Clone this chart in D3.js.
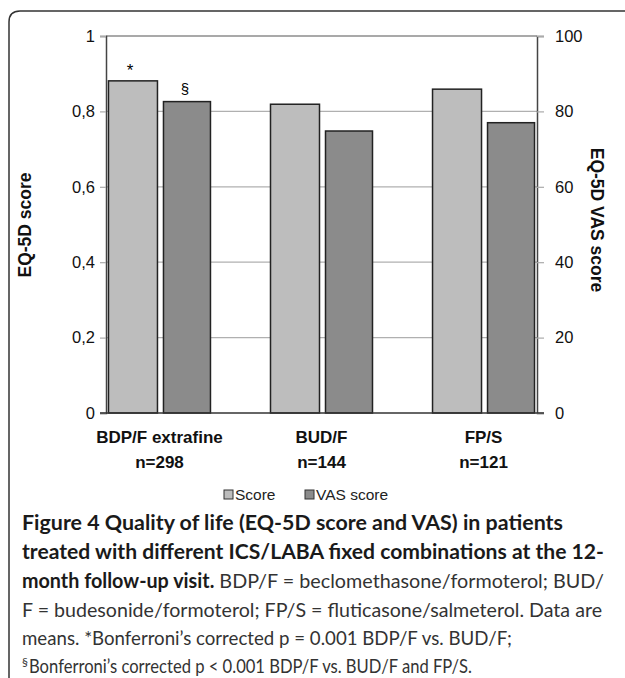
<!DOCTYPE html>
<html><head><meta charset="utf-8">
<script src="https://cdn.jsdelivr.net/npm/d3@7"></script>
<style>body{margin:0;background:#fff}svg{display:block}</style>
</head><body>
<script>
const categories = ["BDP/F extrafine", "BUD/F", "FP/S"];
const nLabels = ["n=298", "n=144", "n=121"];
const scoreValues = [0.881, 0.819, 0.859];
const vasValues = [82.6, 74.8, 77.0];
const scoreMarks = ["*", "", ""];
const vasMarks = ["§", "", ""];
const leftTicks = [0, 0.2, 0.4, 0.6, 0.8, 1];
const rightTicks = [0, 20, 40, 60, 80, 100];
const seriesNames = ["Score", "VAS score"];

const W = 625, H = 678;
const svg = d3.select("body").append("svg").attr("width", W).attr("height", H);

// frame
svg.append("path")
  .attr("d", "M9,690 L9,22 Q9,11 20,11 L626,11")
  .attr("fill", "none").attr("stroke", "#333").attr("stroke-width", 1.5);

const L = 106, R = 537, T = 36, B = 413;
const x = d3.scalePoint().domain(categories).range([L, R]).padding(0.33);
const yL = d3.scaleLinear().domain([0, 1]).range([B, T]);
const yR = d3.scaleLinear().domain([0, 100]).range([B, T]);

const font = "'Liberation Sans', Arial, sans-serif";

// gridlines
svg.append("g").selectAll("line").data(leftTicks.slice(1, -1)).join("line")
  .attr("x1", L).attr("x2", R).attr("y1", d => yL(d)).attr("y2", d => yL(d))
  .attr("stroke", "#b0b0b0").attr("stroke-width", 1.2);
// top border
svg.append("line").attr("x1", L).attr("x2", R).attr("y1", T).attr("y2", T)
  .attr("stroke", "#555").attr("stroke-width", 1.2);

const bw1 = 49, bw2 = 47, gap = 6;
const half = (bw1 + gap + bw2) / 2;

svg.append("g").selectAll("rect").data(categories).join("rect")
  .attr("x", d => x(d) - half).attr("width", bw1)
  .attr("y", (d, i) => yL(scoreValues[i])).attr("height", (d, i) => B - yL(scoreValues[i]))
  .attr("fill", "#bdbdbd").attr("stroke", "#222").attr("stroke-width", 1.5);
svg.append("g").selectAll("rect").data(categories).join("rect")
  .attr("x", d => x(d) - half + bw1 + gap).attr("width", bw2)
  .attr("y", (d, i) => yR(vasValues[i])).attr("height", (d, i) => B - yR(vasValues[i]))
  .attr("fill", "#8b8b8b").attr("stroke", "#222").attr("stroke-width", 1.5);

// annotations
svg.append("g").selectAll("text").data(categories).join("text")
  .attr("x", d => x(d) - half + bw1 / 2 - 3).attr("y", (d, i) => yL(scoreValues[i]) - 5)
  .attr("text-anchor", "middle").attr("font-family", font).attr("font-size", 17)
  .text((d, i) => scoreMarks[i]);
svg.append("g").selectAll("text").data(categories).join("text")
  .attr("x", d => x(d) - half + bw1 + gap + bw2 / 2 - 2).attr("y", (d, i) => yR(vasValues[i]) - 8)
  .attr("text-anchor", "middle").attr("font-family", font).attr("font-size", 15)
  .text((d, i) => vasMarks[i]);

// axes
const fmt = d => (d === 0 || d === 1) ? String(d) : d3.format(".1f")(d).replace(".", ",");
const gl = svg.append("g").attr("transform", `translate(${L},0)`)
  .call(d3.axisLeft(yL).tickValues(leftTicks).tickFormat(fmt).tickSize(6).tickPadding(5));
const gr = svg.append("g").attr("transform", `translate(${R},0)`)
  .call(d3.axisRight(yR).tickValues(rightTicks).tickSize(7).tickPadding(11));
[gl, gr].forEach(g => {
  g.select(".domain").attr("stroke", "#444").attr("stroke-width", 1.5);
  g.selectAll(".tick line").attr("stroke", "#aaa").attr("stroke-width", 1.2);
  g.selectAll(".tick text").attr("font-family", font).attr("font-size", 16.5).attr("fill", "#111");
});
// zero line
svg.append("line").attr("x1", L - 6).attr("x2", R + 7).attr("y1", B).attr("y2", B)
  .attr("stroke", "#333").attr("stroke-width", 1.5);

// category labels
const xl = svg.append("g").selectAll("text").data(categories).join("text")
  .attr("x", d => x(d)).attr("text-anchor", "middle")
  .attr("font-family", font).attr("font-weight", "bold").attr("font-size", 17).attr("fill", "#111");
xl.append("tspan").attr("x", d => x(d)).attr("y", 443).text(d => d);
xl.append("tspan").attr("x", d => x(d)).attr("y", 468).text((d, i) => nLabels[i]);

// axis titles
svg.append("text").attr("transform", "translate(31,225) rotate(-90)")
  .attr("text-anchor", "middle").attr("font-family", font).attr("font-weight", "bold")
  .attr("font-size", 17.5).attr("fill", "#111").text("EQ-5D score");
svg.append("text").attr("transform", "translate(591,220) rotate(90)")
  .attr("text-anchor", "middle").attr("font-family", font).attr("font-weight", "bold")
  .attr("font-size", 17.5).attr("fill", "#111").text("EQ-5D VAS score");

// legend
const legX = [224, 305], legFill = ["#bdbdbd", "#8b8b8b"];
const lg = svg.append("g").selectAll("g").data(seriesNames).join("g")
  .attr("transform", (d, i) => `translate(${legX[i]},490)`);
lg.append("rect").attr("width", 9).attr("height", 9).attr("fill", (d, i) => legFill[i])
  .attr("stroke", "#333").attr("stroke-width", 1);
lg.append("text").attr("x", 11).attr("y", 10).attr("font-family", font).attr("font-size", 15.5)
  .attr("fill", "#222").text(d => d);

// caption
const cf = "Lato, 'Open Sans', sans-serif";
const lines = [
  {parts: [{t: "Figure 4 Quality of life (EQ-5D score and VAS) in patients", b: true}], w: 541},
  {parts: [{t: "treated with different ICS/LABA fixed combinations at the 12-", b: true}], w: 582},
  {parts: [{t: "month follow-up visit.", b: true}, {t: " BDP/F = beclomethasone/formoterol; BUD/", b: false}], w: 582},
  {parts: [{t: "F = budesonide/formoterol; FP/S = fluticasone/salmeterol. Data are", b: false}], w: 580},
  {parts: [{t: "means. *Bonferroni’s corrected p = 0.001 BDP/F vs. BUD/F;", b: false}], w: 490},
  {parts: [{t: "Bonferroni’s corrected p < 0.001 BDP/F vs. BUD/F and FP/S.", b: false}], w: 443, sup: "§"}
];
const ys = [530, 559, 588, 617, 645, 673];
lines.forEach((ln, i) => {
  let x0 = 22;
  if (ln.sup) {
    svg.append("text").attr("x", 22).attr("y", ys[i] - 7).attr("font-family", cf)
      .attr("font-size", 12).attr("fill", "#333").text(ln.sup);
    x0 = 29;
  }
  const t = svg.append("text").attr("x", x0).attr("y", ys[i]).attr("font-family", cf)
    .attr("font-size", 20).attr("fill", "#222");
  ln.parts.forEach(p => {
    t.append("tspan").attr("font-weight", p.b ? "bold" : "normal")
      .attr("fill", p.b ? "#1a1a1a" : "#333").text(p.t);
  });
  t.attr("textLength", ln.w).attr("lengthAdjust", "spacingAndGlyphs");
});
</script>
</body></html>
